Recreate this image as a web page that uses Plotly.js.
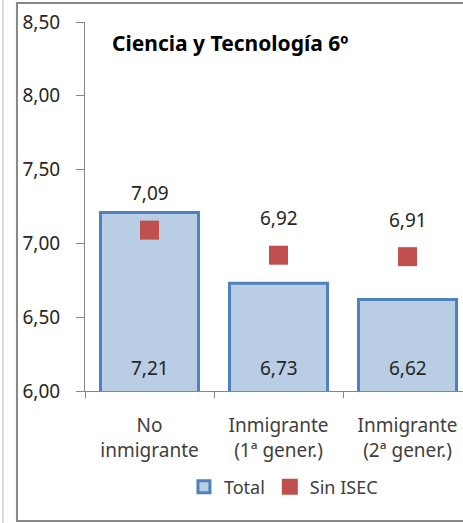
<!DOCTYPE html>
<html><head><meta charset="utf-8">
<script src="https://cdn.plot.ly/plotly-3.0.1.min.js"></script>
<style>body{margin:0;background:#fff}#c{width:463px;height:523px}</style>
</head><body><div id="c"></div>
<script>
const categories = ["No<br>inmigrante", "Inmigrante<br>(1ª gener.)", "Inmigrante<br>(2ª gener.)"];
const total = [7.21, 6.73, 6.62];
const sinIsec = [7.09, 6.92, 6.91];
const yTicks = [6.0, 6.5, 7.0, 7.5, 8.0, 8.5];
const fmt = v => v.toFixed(2).replace('.', ',');
const FONT = "Noto Sans, sans-serif";
const LBL = {family:FONT, size:19, color:'#262626'};

const data = [
  {type:'bar', name:'Total', x:categories, y:total, width:0.76,
   marker:{color:'#B9CDE5', line:{color:'#4F81BD', width:3}}, hoverinfo:'none'},
  {type:'scatter', mode:'markers', name:'Sin ISEC', x:categories, y:sinIsec,
   marker:{symbol:'square', size:19, color:'#C0504D'}, cliponaxis:false, hoverinfo:'none'}
];

const annotations = [{text:'<b>Ciencia y Tecnología 6º</b>', xref:'paper', yref:'paper',
    x:0.065, y:0.943, xanchor:'left', yanchor:'middle', showarrow:false,
    font:{family:FONT, size:21, color:'#000'}}];
categories.forEach((c, i) => {
  annotations.push({x:c, y:6, xref:'x', yref:'y', text:fmt(total[i]), showarrow:false,
    yanchor:'middle', yshift:23, font:LBL});
  annotations.push({x:c, y:sinIsec[i], xref:'x', yref:'y', text:fmt(sinIsec[i]), showarrow:false,
    yanchor:'middle', yshift:37, font:LBL});
});

const layout = {
  width:463, height:523,
  margin:{l:85, r:0, t:22, b:132},
  paper_bgcolor:'#fff', plot_bgcolor:'#fff',
  separators:',.',
  font:{family:FONT, size:19, color:'#404040'},
  showlegend:true,
  legend:{orientation:'h', x:0.525, xanchor:'center', y:-0.26, yanchor:'middle',
          font:{family:FONT, size:18, color:'#404040'}, itemwidth:20, tracegroupgap:0, traceorder:'normal'},
  xaxis:{type:'category', range:[-0.5, 2.43], showline:true, linecolor:'#868686', linewidth:1,
         ticks:'outside', tickson:'boundaries', ticklen:6, tickcolor:'#868686',
         showgrid:false, zeroline:false, fixedrange:true, ticklabelstandoff:17,
         tickfont:{family:FONT, size:19, color:'#404040'}},
  yaxis:{range:[6, 8.5], tickvals:yTicks, ticktext:yTicks.map(fmt), showline:true,
         linecolor:'#868686', linewidth:1, ticks:'outside', ticklen:8, tickcolor:'#868686',
         showgrid:false, zeroline:false, ticklabelstandoff:12,
         tickfont:{family:FONT, size:19, color:'#262626'}},
  annotations: annotations,
  shapes:[
    {type:'rect', xref:'paper', yref:'paper', x0:-0.18, x1:1.1, y0:-0.352, y1:1.0515,
     line:{color:'#888', width:2}, fillcolor:'rgba(0,0,0,0)', layer:'below'},
    {type:'line', xref:'paper', yref:'paper', x0:-0.217, x1:-0.217, y0:-0.36, y1:1.06,
     line:{color:'#dcdcdc', width:2}, layer:'below'}
  ]
};
Plotly.newPlot('c', data, layout, {displayModeBar:false, staticPlot:true});
</script></body></html>
